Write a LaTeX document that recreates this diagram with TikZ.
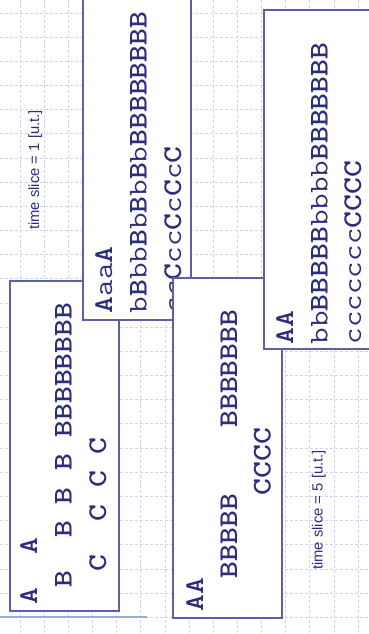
\documentclass[tikz,border=0pt]{standalone}
\usepackage{fontspec}
\usepackage{tikz}
\newfontfamily\slicefont{Liberation Sans}
\definecolor{gridcol}{RGB}{205,212,240}
\definecolor{framecol}{RGB}{95,95,165}
\definecolor{inkcol}{RGB}{45,45,125}
\definecolor{rulecol}{RGB}{155,170,225}
\newcommand{\run}[1]{\textbf{#1}}

\begin{document}
\begin{tikzpicture}[
  x=1pt, y=-1pt,
  slot/.style={draw=framecol, line width=1.2pt, fill=white},
  row/.style={rotate=90, xscale=1.19, anchor=base west, inner sep=0pt, text=inkcol, font=\ttfamily\fontsize{27}{30}\selectfont},
  slice/.style={rotate=90, anchor=base, inner sep=0pt, text=inkcol, font=\slicefont\fontsize{14.8}{16}\selectfont},
  gridline/.style={draw=gridcol, line width=0.8pt, dash pattern=on 3pt off 2pt}
]
\useasboundingbox (0,0) rectangle (369,634);
\clip (0,0) rectangle (369,634);
\fill[white] (0,0) rectangle (369,634);

% Grid.
\foreach \gx in {0,...,14} {
  \draw[gridline] ({20+24.15*\gx},0) -- ({20+24.15*\gx},634);
}
\foreach \gy in {0,...,25} {
  \draw[gridline] (0,{13+24.17*\gy}) -- (369,{13+24.17*\gy});
}
\draw[draw=rulecol, line width=1.6pt] (0,617) -- (147,617);

\node[slice] (lab1) at (39,170) {time slice = 1 [u.t.]};

% Time slice 1.
\draw[slot] (10,281) rectangle (119,611);
\node[row] (s1A) at (37,604.5) {\run{A}~~\run{A}};
\node[row] (s1B) at (71.5,604.5) {~\run{B}~~\run{B}~\run{B}~\run{B}~\run{BBBBBBBB}};
\node[row] (s1C) at (106,604.5) {~~\run{C}~~\run{C}~\run{C}~\run{C}};

% Time slice 1, waiting shown.
\draw[slot] (83,-5) rectangle (191,320);
\node[row] (w1A) at (112,313.5) {\run{A}aa\run{A}};
\node[row] (w1B) at (146.5,313.5) {b\run{B}bb\run{B}b\run{B}b\run{B}b\run{BBBBBBBB}};
\node[row] (w1C) at (181,313.5) {cc\run{C}cc\run{C}c\run{C}c\run{C}};

% Time slice 5.
\draw[slot] (173,278) rectangle (282,618);
\node[row] (s5A) at (203,611.5) {\run{AA}};
\node[row] (s5B) at (237,611.5) {~~\run{BBBBB}~~~~\run{BBBBBBB}};
\node[row] (s5C) at (270.5,611.5) {~~~~~~~\run{CCCC}};

% Time slice 5, waiting shown.
\draw[slot] (264,10) rectangle (380,349);
\node[row] (w5A) at (293,344.5) {\run{AA}};
\node[row] (w5B) at (327.5,344.5) {bb\run{BBBBB}bbbb\run{BBBBBBB}};
\node[row] (w5C) at (361,344.5) {ccccccc\run{CCCC}};

\node[slice] (lab5) at (322.5,510) {time slice = 5 [u.t.]};
\end{tikzpicture}
\end{document}
